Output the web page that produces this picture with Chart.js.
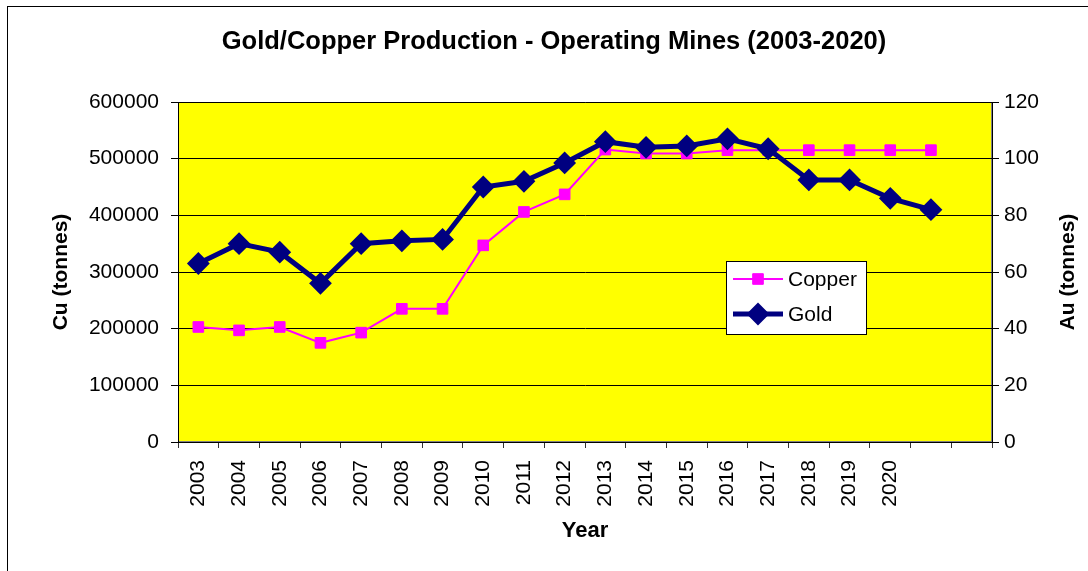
<!DOCTYPE html>
<html>
<head>
<meta charset="utf-8">
<script src="https://cdn.jsdelivr.net/npm/chart.js@4/dist/chart.umd.min.js"></script>
<style>
  html, body { margin: 0; padding: 0; background: #fff; overflow: hidden; }
  #frame { position: absolute; left: 7px; top: 6px; width: 2000px; height: 2000px;
           border-left: 1px solid #000; border-top: 1px solid #000; }
  #wrap { position: absolute; left: 0; top: 0; width: 1088px; height: 571px; }
</style>
</head>
<body>
<div id="frame"></div>
<div id="wrap"><canvas id="chartCanvas" width="1088" height="571"></canvas></div>
<script>
// category slots: 18 labelled years plus two empty slots at the end
const years = ['2003', '2004', '2005', '2006', '2007', '2008', '2009', '2010', '2011', '2012',
               '2013', '2014', '2015', '2016', '2017', '2018', '2019', '2020', '', ''];
// Cu (tonnes), left axis
const copper = [203000, 197000, 203000, 175000, 193000, 235000, 235000, 347000, 406000, 437000,
                516000, 509000, 509000, 515000, 515000, 515000, 515000, 515000, 515000];
// Au (tonnes), right axis
const gold = [63, 70, 67, 56, 70, 71, 71.5, 90, 92, 98.5,
              106, 104, 104.5, 107, 103.5, 92.5, 92.5, 86, 82];

const leftTicks = [0, 100000, 200000, 300000, 400000, 500000, 600000];
const rightTicks = [0, 20, 40, 60, 80, 100, 120];

const FONT = 'Liberation Sans, Arial, sans-serif';

const plotBackground = {
    id: 'plotBackground',
    beforeDraw(chart) {
        const {ctx, chartArea: a} = chart;
        ctx.save();
        ctx.fillStyle = '#FFFF00';
        ctx.fillRect(a.left, a.top, a.right - a.left, a.bottom - a.top);
        ctx.strokeStyle = '#808080';
        ctx.lineWidth = 1;
        ctx.strokeRect(a.left + 0.5, a.top + 0.5, a.right - a.left - 1, a.bottom - a.top - 1);
        ctx.restore();
    }
};

const boxLegend = {
    id: 'boxLegend',
    afterDraw(chart) {
        const {ctx, chartArea: a} = chart;
        const left = a.left + 548, top = a.top + 159, w = 140, h = 73;
        ctx.save();
        ctx.fillStyle = '#fff';
        ctx.fillRect(left, top, w, h);
        ctx.strokeStyle = '#000';
        ctx.lineWidth = 1;
        ctx.strokeRect(left + 0.5, top + 0.5, w, h);
        const rows = [chart.data.datasets[0], chart.data.datasets[1]];
        rows.forEach((ds, i) => {
            const y = top + 18 + i * 35;
            ctx.strokeStyle = ds.borderColor;
            ctx.lineWidth = ds.borderWidth;
            ctx.beginPath();
            ctx.moveTo(left + 7, y);
            ctx.lineTo(left + 57, y);
            ctx.stroke();
            ctx.fillStyle = ds.pointBackgroundColor;
            ctx.strokeStyle = ds.pointBorderColor;
            ctx.lineWidth = ds.pointBorderWidth;
            Chart.helpers.drawPoint(ctx, {pointStyle: ds.pointStyle, radius: ds.pointRadius, rotation: 0, borderWidth: ds.pointBorderWidth}, left + 32, y);
            ctx.fillStyle = '#000';
            ctx.font = '21px ' + FONT;
            ctx.textBaseline = 'middle';
            ctx.fillText(ds.label, left + 62, y + 1);
        });
        ctx.restore();
    }
};

const rightTitle = {
    id: 'rightTitle',
    afterDraw(chart) {
        const {ctx, chartArea: a} = chart;
        ctx.save();
        ctx.translate(1068, (a.top + a.bottom) / 2);
        ctx.rotate(-Math.PI / 2);
        ctx.font = 'bold 21px ' + FONT;
        ctx.fillStyle = '#000';
        ctx.textAlign = 'center';
        ctx.textBaseline = 'middle';
        ctx.fillText('Au (tonnes)', 0, 0);
        ctx.restore();
    }
};

new Chart(document.getElementById('chartCanvas').getContext('2d'), {
    type: 'line',
    data: {
        labels: years,
        datasets: [
            {
                label: 'Copper',
                data: copper,
                yAxisID: 'yCu',
                borderColor: '#FF00FF',
                backgroundColor: '#FF00FF',
                borderWidth: 2,
                pointStyle: 'rect',
                pointRadius: 7.5,
                pointBackgroundColor: '#FF00FF',
                pointBorderColor: '#FF00FF',
                pointBorderWidth: 1,
                tension: 0,
                fill: false,
                order: 1
            },
            {
                label: 'Gold',
                data: gold,
                yAxisID: 'yAu',
                borderColor: '#000080',
                backgroundColor: '#000080',
                borderWidth: 5,
                pointStyle: 'rectRot',
                pointRadius: 10,
                pointBackgroundColor: '#000080',
                pointBorderColor: '#000080',
                pointBorderWidth: 2,
                tension: 0,
                fill: false,
                order: 0
            }
        ]
    },
    options: {
        responsive: false,
        animation: false,
        events: [],
        layout: { padding: { left: 20, right: 0, top: 0, bottom: 0 } },
        plugins: {
            legend: { display: false },
            tooltip: { enabled: false },
            title: {
                display: true,
                text: 'Gold/Copper Production - Operating Mines (2003-2020)',
                color: '#000',
                font: { family: FONT, size: 25.5, weight: 'bold', lineHeight: 1.2 },
                padding: { top: 27, bottom: 44.4 }
            }
        },
        scales: {
            x: {
                type: 'category',
                offset: true,
                grid: { offset: true, drawOnChartArea: false, color: '#333', tickLength: 6 },
                border: { color: '#000', width: 1 },
                ticks: {
                    color: '#000',
                    font: { family: FONT, size: 21 },
                    minRotation: 90, maxRotation: 90,
                    autoSkip: false,
                    padding: 12
                },
                title: {
                    display: true, text: 'Year', color: '#000',
                    font: { family: FONT, size: 22, weight: 'bold', lineHeight: 1.2 },
                    padding: { top: 0, bottom: 27 }
                },
                afterFit(scale) { scale.height = 129; }
            },
            yCu: {
                position: 'left',
                min: 0, max: 600000,
                afterBuildTicks(scale) { scale.ticks = leftTicks.map(v => ({value: v})); },
                grid: { color: '#000', lineWidth: 1, tickLength: 7 },
                border: { color: '#000', width: 1 },
                ticks: { color: '#000', font: { family: FONT, size: 21 }, padding: 12, callback: v => String(v) },
                title: {
                    display: true, text: 'Cu (tonnes)', color: '#000',
                    font: { family: FONT, size: 21, weight: 'bold', lineHeight: 1.2 },
                    padding: { top: 29, bottom: 0 }
                },
                afterFit(scale) { scale.width = 158; }
            },
            yAu: {
                position: 'right',
                min: 0, max: 120,
                afterBuildTicks(scale) { scale.ticks = rightTicks.map(v => ({value: v})); },
                grid: { drawOnChartArea: false, color: '#000', tickLength: 7 },
                border: { color: '#000', width: 1 },
                ticks: { color: '#000', font: { family: FONT, size: 21 }, padding: 5, callback: v => String(v) },
                afterFit(scale) { scale.width = 96; }
            }
        }
    },
    plugins: [plotBackground, boxLegend, rightTitle]
});
</script>
</body>
</html>
